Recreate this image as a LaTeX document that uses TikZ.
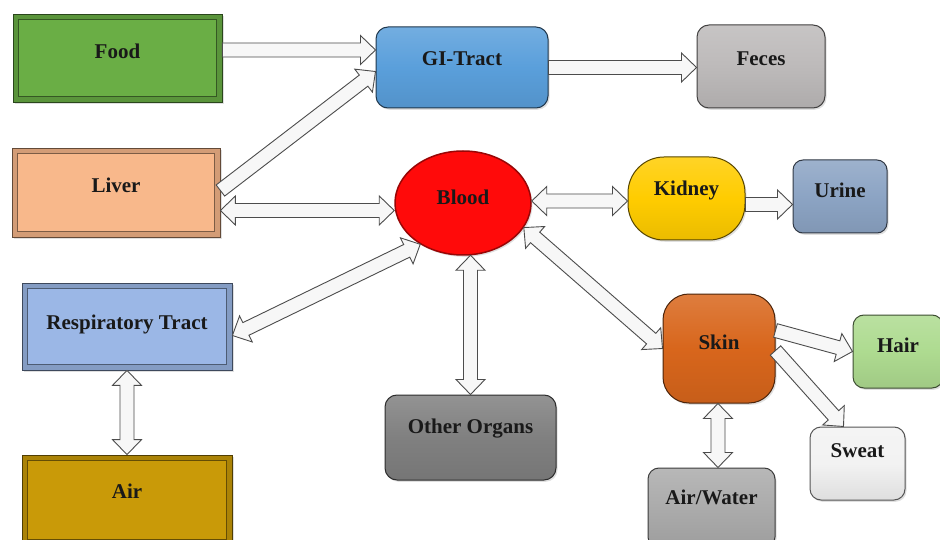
\documentclass[tikz,border=0pt]{standalone}
\usepackage{fontspec}
\setmainfont{Liberation Serif}
\usetikzlibrary{calc,shadows,shapes.geometric}
\definecolor{cfood}{HTML}{6AAE45}
\definecolor{cliver}{HTML}{F8B88B}
\definecolor{cresp}{HTML}{9BB7E6}
\definecolor{cair}{HTML}{C99A08}
\definecolor{cgi}{HTML}{5A9FDB}
\definecolor{cfeces}{HTML}{BDBABA}
\definecolor{cblood}{HTML}{FF0A0A}
\definecolor{ckid}{HTML}{FFCC00}
\definecolor{curine}{HTML}{8CA4C4}
\definecolor{cother}{HTML}{808080}
\definecolor{cskin}{HTML}{D8661C}
\definecolor{chair}{HTML}{AEDB90}
\definecolor{csweat}{HTML}{F2F2F2}
\definecolor{cairw}{HTML}{ABABAB}
\newcommand\sarrow[2]{\draw[blockarrow] let \p1=(#1), \p2=(#2),
  \n1={atan2(\y2-\y1,\x2-\x1)}, \n2={veclen(\x2-\x1,\y2-\y1)} in
  [shift={(\p1)}, rotate=\n1]
  (0pt,7pt) -- ({\n2-15pt},7pt) -- ({\n2-15pt},14.5pt) -- ({\n2},0pt)
  -- ({\n2-15pt},-14.5pt) -- ({\n2-15pt},-7pt) -- (0pt,-7pt) -- cycle;}
\newcommand\darrow[2]{\draw[blockarrow] let \p1=(#1), \p2=(#2),
  \n1={atan2(\y2-\y1,\x2-\x1)}, \n2={veclen(\x2-\x1,\y2-\y1)} in
  [shift={(\p1)}, rotate=\n1]
  (0pt,0pt) -- (15pt,14.5pt) -- (15pt,7pt) -- ({\n2-15pt},7pt) -- ({\n2-15pt},14.5pt) -- ({\n2},0pt)
  -- ({\n2-15pt},-14.5pt) -- ({\n2-15pt},-7pt) -- (15pt,-7pt) -- (15pt,-14.5pt) -- cycle;}
\begin{document}
\begin{tikzpicture}[x=1pt,y=-1pt,
  lbl/.style={font=\fontsize{21}{24}\selectfont\bfseries, text=black!90},
  tup/.style={text height=14pt, text depth=#1},
  shd/.style={drop shadow={opacity=0.25,shadow xshift=1.5pt,shadow yshift=-1.8pt}},
  sqbox/.style={rectangle, inner sep=0pt, lbl, shd, draw=#1!40!black, line width=0.8pt, fill=#1!85!black,
    path picture={\draw[draw=#1!50!black, fill=#1, line width=0.6pt]
      ([shift={(5.5pt,-5.5pt)}]path picture bounding box.north west) rectangle
      ([shift={(-5.5pt,5.5pt)}]path picture bounding box.south east);}},
  rbox/.style={rectangle, inner sep=0pt, lbl, shd, rounded corners=#1},
  rcol/.style={draw=#1!35!black, line width=1pt, top color=#1!85!white, bottom color=#1!92!black, middle color=#1},
  blockarrow/.style={draw=black!70, fill=gray!6, line width=0.9pt, line join=miter}]
\useasboundingbox (0,0) rectangle (940,540);
\fill[white] (0,0) rectangle (940,540);
\clip (0,0) rectangle (940,540);
% square boxes
\node[sqbox=cfood, minimum width=209pt, minimum height=88pt, tup=12pt] (food) at (117.5,58) {Food};
\node[sqbox=cliver, minimum width=208pt, minimum height=89pt, tup=14pt] (liver) at (116,192.5) {Liver};
\node[sqbox=cresp, minimum width=210pt, minimum height=87pt, tup=8pt] (resp) at (127,326.5) {Respiratory Tract};
\node[sqbox=cair, minimum width=210pt, minimum height=90pt, tup=18pt] (air) at (127,500) {Air};
% rounded boxes
\node[rbox=12pt, rcol=cgi, minimum width=172pt, minimum height=81pt, tup=18pt] (gi) at (462,67.5) {GI-Tract};
\node[rbox=12pt, rcol=cfeces, minimum width=128pt, minimum height=83pt, tup=16pt] (feces) at (761,66.5) {Feces};
\node[ellipse, inner sep=0pt, lbl, shd, fill=cblood, draw=cblood!60!black, line width=1.5pt,
  minimum width=136pt, minimum height=104pt, tup=10pt] (blood) at (463,203) {Blood};
\node[rbox=36pt, rcol=ckid, minimum width=117pt, minimum height=83pt, tup=20pt] (kidney) at (686.5,198.5) {Kidney};
\node[rbox=10pt, rcol=curine, minimum width=94pt, minimum height=73pt, tup=12pt] (urine) at (840,196.5) {Urine};
\node[rbox=12pt, rcol=cother, minimum width=171pt, minimum height=85pt, tup=22pt] (other) at (470.5,437.5) {Other Organs};
\node[rbox=26pt, rcol=cskin, minimum width=112pt, minimum height=109pt, tup=12pt] (skin) at (719,348.5) {Skin};
\node[rbox=11pt, rcol=chair, minimum width=90pt, minimum height=73pt, tup=12pt] (hair) at (898,351.5) {Hair};
\node[rbox=11pt, rcol=csweat, minimum width=95pt, minimum height=73pt, tup=26pt] (sweat) at (857.5,463.5) {Sweat};
\node[rbox=11pt, rcol=cairw, minimum width=127pt, minimum height=80pt, tup=22pt] (airwater) at (711.5,508) {Air/Water};
% connector end points
\coordinate (f1) at ([yshift=8pt]food.east);
\coordinate (f2) at (f1 -| gi.west);
\coordinate (l1) at ([yshift=2pt]liver.east);
\coordinate (g1) at ([yshift=-4pt]gi.west);
\coordinate (l2) at ([yshift=-18pt]liver.east);
\coordinate (b1) at (l2 -| blood.west);
\coordinate (g2) at (gi.east);
\coordinate (fe1) at (g2 -| feces.west);
\coordinate (b2) at ([yshift=2pt]blood.east);
\coordinate (k1) at (b2 -| kidney.west);
\coordinate (k2) at ([yshift=-6pt]kidney.east);
\coordinate (u1) at (k2 -| urine.west);
\coordinate (b3) at (blood.224);
\coordinate (r1) at ([yshift=-9pt]resp.east);
\coordinate (o1) at (other.north);
\coordinate (b4) at ([yshift=0.5pt]o1 |- blood.south);
\coordinate (b5) at (blood.-22);
\coordinate (s1) at (skin.west);
\coordinate (s2) at ([yshift=18pt]skin.east);
\coordinate (h1) at (hair.west);
\coordinate (s3) at ([yshift=-2pt]skin.east);
\coordinate (sw1) at ([xshift=-14pt]sweat.north);
\coordinate (s4) at ([xshift=-1pt]skin.south);
\coordinate (aw1) at (s4 |- airwater.north);
\coordinate (r2) at (resp.south);
\coordinate (a1) at (r2 |- air.north);
% connectors
\sarrow{f1}{f2}
\sarrow{l1}{g1}
\darrow{l2}{b1}
\sarrow{g2}{fe1}
\darrow{b2}{k1}
\sarrow{k2}{u1}
\darrow{b3}{r1}
\darrow{b4}{o1}
\darrow{b5}{s1}
\sarrow{s2}{h1}
\sarrow{s3}{sw1}
\darrow{s4}{aw1}
\darrow{r2}{a1}
\end{tikzpicture}
\end{document}
